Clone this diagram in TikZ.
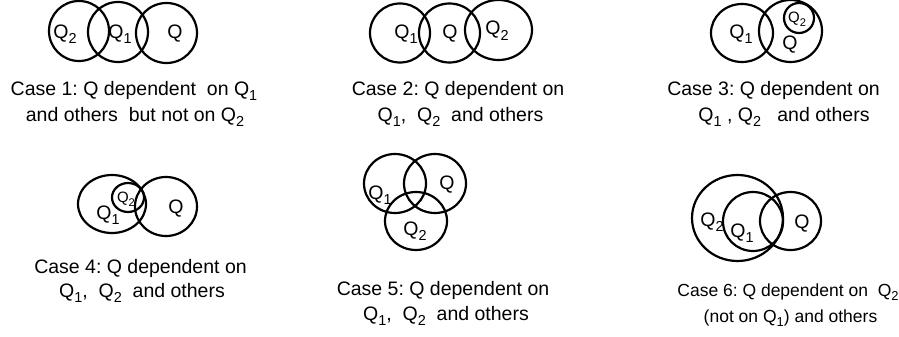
\documentclass[tikz,border=0pt]{standalone}
\usepackage{fontspec}
\usepackage{graphicx}
\setmainfont{Liberation Sans}
\usetikzlibrary{shapes.geometric}
\frenchspacing
% Q with a lowered, smaller index
\newcommand\Qx[1]{Q\raisebox{-0.27em}{\scalebox{0.74}{#1}}}
\tikzset{
  ring/.style args={#1/#2}{draw, ellipse, line width=2.2pt, inner sep=0pt,
    minimum width=#1, minimum height=#2},
  lbl/.style={anchor=base, inner sep=0pt, font=\fontsize{19.5}{22}\selectfont},
  slbl/.style={anchor=base, inner sep=0pt, font=\fontsize{15}{18}\selectfont},
  caption/.style={anchor=base, inner sep=0pt, font=\fontsize{19.5}{22}\selectfont},
  captionsm/.style={anchor=base, inner sep=0pt, font=\fontsize{17.5}{20}\selectfont},
}
\begin{document}
\begin{tikzpicture}[x=1pt,y=-1pt]
\useasboundingbox (0,0) rectangle (899,337);

% Case 1
\node[ring=60/60] (c1a) at (79,31) {};
\node[ring=60/60] (c1b) at (118,32) {};
\node[ring=61/60] (c1c) at (166.5,33) {};
\node[lbl] (l1a) at (65,38) {\Qx{2}};
\node[lbl] (l1b) at (120,38) {\Qx{1}};
\node[lbl] (l1c) at (175,39) {Q};
\node[caption] (t1a) at (134,95) {Case 1: Q dependent\ \ on \Qx{1}};
\node[caption] (t1b) at (135,121) {and others\ \ but not on \Qx{2}};

% Case 2
\node[ring=60/59] (c2a) at (400,33) {};
\node[ring=61/59] (c2b) at (449.5,33) {};
\node[ring=67/60] (c2c) at (498.5,30) {};
\node[lbl] (l2a) at (406,38) {\Qx{1}};
\node[lbl] (l2b) at (450,38) {Q};
\node[lbl] (l2c) at (497,35) {\Qx{2}};
\node[caption] (t2a) at (458,95) {Case 2: Q dependent on};
\node[caption] (t2b) at (460.5,121) {\Qx{1},\ \ \Qx{2}\ \ and others};

% Case 3
\node[ring=62/58] (c3a) at (742,33) {};
\node[ring=63/62] (c3b) at (790.5,31) {};
\node[ring=30/30] (c3c) at (799,18) {};
\node[lbl] (l3a) at (741,38) {\Qx{1}};
\node[lbl] (l3b) at (790,49) {Q};
\node[slbl] (l3c) at (797,22.5) {\Qx{2}};
\node[caption] (t3a) at (773.5,95) {Case 3: Q dependent on};
\node[caption] (t3b) at (784,121) {\Qx{1} , \Qx{2}\ \ \ and others};

% Case 4
\node[ring=68/58] (c4a) at (112,204) {};
\node[ring=62/59] (c4b) at (166,206.5) {};
\node[ring=32/29] (c4c) at (128,197.5) {};
\node[slbl] (l4c) at (126,202.5) {\Qx{2}};
\node[lbl] (l4a) at (108,219) {\Qx{1}};
\node[lbl] (l4b) at (176,213) {Q};
\node[caption] (t4a) at (140.5,273) {Case 4: Q dependent on};
\node[caption] (t4b) at (142,297) {\Qx{1},\ \ \Qx{2}\ \ and others};

% Case 5
\node[ring=62/59] (c5a) at (395,183.5) {};
\node[ring=62/59] (c5b) at (435,183.5) {};
\node[ring=62/58] (c5c) at (416,221) {};
\node[lbl] (l5a) at (380,199) {\Qx{1}};
\node[lbl] (l5b) at (447,189) {Q};
\node[lbl] (l5c) at (415,235) {\Qx{2}};
\node[caption] (t5a) at (443,295) {Case 5: Q dependent on};
\node[caption] (t5b) at (446,320) {\Qx{1},\ \ \Qx{2}\ \ and others};

% Case 6
\node[ring=91/86] (c6a) at (737.5,218) {};
\node[ring=60/59] (c6b) at (753,221.5) {};
\node[ring=61/58] (c6c) at (790.5,221) {};
\node[lbl] (l6a) at (712,226) {\Qx{2}};
\node[lbl] (l6b) at (742,237) {\Qx{1}};
\node[lbl] (l6c) at (802,228) {Q};
\node[captionsm] (t6a) at (788,296) {Case 6: Q dependent on\ \ \Qx{2}};
\node[captionsm] (t6b) at (790.5,322) {(not on \Qx{1}) and others};
\end{tikzpicture}
\end{document}
